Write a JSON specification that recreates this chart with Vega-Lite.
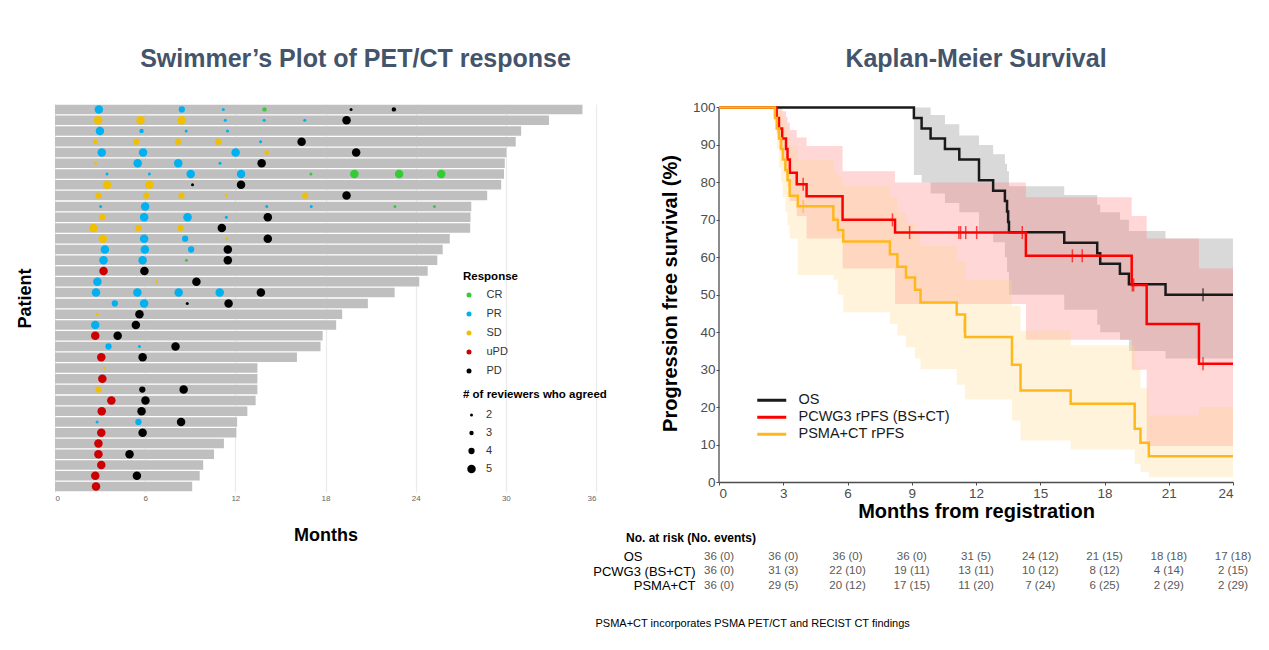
{
  "$schema": "https://vega.github.io/schema/vega-lite/v6.json",
  "background": "white",
  "padding": {"left": 16, "top": 46, "right": 5, "bottom": 5},
  "autosize": {"type": "pad"},
  "config": {
    "view": {"stroke": null},
    "font": "Liberation Sans",
    "axis": {"labelFont": "Liberation Sans", "titleFont": "Liberation Sans"},
    "legend": {"labelFont": "Liberation Sans", "titleFont": "Liberation Sans"},
    "title": {"font": "Liberation Sans"},
    "text": {"font": "Liberation Sans"}
  },
  "datasets": {
    "bars": [
      {"p": 1, "months": 35.1}, {"p": 2, "months": 32.87}, {"p": 3, "months": 31.02}, {"p": 4, "months": 30.66},
      {"p": 5, "months": 30.04}, {"p": 6, "months": 29.93}, {"p": 7, "months": 29.88}, {"p": 8, "months": 29.69},
      {"p": 9, "months": 28.76}, {"p": 10, "months": 27.7}, {"p": 11, "months": 27.65}, {"p": 12, "months": 27.63},
      {"p": 13, "months": 26.27}, {"p": 14, "months": 25.8}, {"p": 15, "months": 25.44}, {"p": 16, "months": 24.8},
      {"p": 17, "months": 24.24}, {"p": 18, "months": 22.6}, {"p": 19, "months": 20.82}, {"p": 20, "months": 19.11},
      {"p": 21, "months": 18.71}, {"p": 22, "months": 17.81}, {"p": 23, "months": 17.67}, {"p": 24, "months": 16.1},
      {"p": 25, "months": 13.47}, {"p": 26, "months": 13.47}, {"p": 27, "months": 13.47}, {"p": 28, "months": 13.35},
      {"p": 29, "months": 12.8}, {"p": 30, "months": 12.12}, {"p": 31, "months": 12.07}, {"p": 32, "months": 11.24},
      {"p": 33, "months": 10.58}, {"p": 34, "months": 9.86}, {"p": 35, "months": 9.63}, {"p": 36, "months": 9.13}
    ],
    "dots": [
      {"p":1,"t":2.92,"r":"PR","n":5},{"p":1,"t":8.44,"r":"PR","n":4},{"p":1,"t":11.2,"r":"PR","n":2},{"p":1,"t":13.94,"r":"CR","n":3},{"p":1,"t":19.7,"r":"PD","n":2},{"p":1,"t":22.55,"r":"PD","n":3},
      {"p":2,"t":2.87,"r":"SD","n":5},{"p":2,"t":5.69,"r":"SD","n":5},{"p":2,"t":8.42,"r":"SD","n":5},{"p":2,"t":11.33,"r":"PR","n":2},{"p":2,"t":13.92,"r":"PR","n":2},{"p":2,"t":16.62,"r":"PR","n":2},{"p":2,"t":19.4,"r":"PD","n":5},
      {"p":3,"t":2.99,"r":"PR","n":5},{"p":3,"t":5.76,"r":"PR","n":3},{"p":3,"t":8.73,"r":"PR","n":2},{"p":3,"t":11.48,"r":"PR","n":2},
      {"p":4,"t":2.68,"r":"SD","n":3},{"p":4,"t":5.41,"r":"SD","n":4},{"p":4,"t":8.18,"r":"SD","n":4},{"p":4,"t":10.86,"r":"SD","n":4},{"p":4,"t":13.68,"r":"PR","n":2},{"p":4,"t":16.41,"r":"PD","n":5},
      {"p":5,"t":3.11,"r":"PR","n":5},{"p":5,"t":5.86,"r":"PR","n":5},{"p":5,"t":12.02,"r":"PR","n":5},{"p":5,"t":14.09,"r":"SD","n":3},{"p":5,"t":20.04,"r":"PD","n":5},
      {"p":6,"t":2.7,"r":"SD","n":2},{"p":6,"t":5.5,"r":"PR","n":5},{"p":6,"t":8.2,"r":"PR","n":5},{"p":6,"t":10.98,"r":"PR","n":2},{"p":6,"t":13.75,"r":"PD","n":5},
      {"p":7,"t":3.46,"r":"PR","n":2},{"p":7,"t":6.28,"r":"PR","n":2},{"p":7,"t":9.03,"r":"PR","n":5},{"p":7,"t":12.38,"r":"PR","n":5},{"p":7,"t":17.03,"r":"CR","n":2},{"p":7,"t":19.92,"r":"CR","n":5},{"p":7,"t":22.9,"r":"CR","n":5},{"p":7,"t":25.7,"r":"CR","n":5},
      {"p":8,"t":3.46,"r":"SD","n":5},{"p":8,"t":6.28,"r":"SD","n":5},{"p":8,"t":9.15,"r":"PD","n":2},{"p":8,"t":12.38,"r":"PD","n":5},
      {"p":9,"t":2.89,"r":"SD","n":4},{"p":9,"t":6.07,"r":"SD","n":4},{"p":9,"t":8.42,"r":"SD","n":4},{"p":9,"t":11.38,"r":"SD","n":2},{"p":9,"t":16.65,"r":"SD","n":4},{"p":9,"t":19.4,"r":"PD","n":5},
      {"p":10,"t":3.04,"r":"PR","n":2},{"p":10,"t":6.0,"r":"PR","n":5},{"p":10,"t":14.09,"r":"PR","n":2},{"p":10,"t":17.05,"r":"PR","n":2},{"p":10,"t":22.62,"r":"CR","n":2},{"p":10,"t":25.25,"r":"CR","n":2},
      {"p":11,"t":3.15,"r":"SD","n":4},{"p":11,"t":5.93,"r":"PR","n":5},{"p":11,"t":8.82,"r":"PR","n":5},{"p":11,"t":11.4,"r":"PR","n":2},{"p":11,"t":14.16,"r":"PD","n":5},
      {"p":12,"t":2.56,"r":"SD","n":5},{"p":12,"t":5.55,"r":"SD","n":4},{"p":12,"t":8.35,"r":"SD","n":4},{"p":12,"t":11.1,"r":"PD","n":5},
      {"p":13,"t":3.18,"r":"SD","n":5},{"p":13,"t":5.93,"r":"PR","n":5},{"p":13,"t":8.66,"r":"PR","n":4},{"p":13,"t":11.43,"r":"SD","n":2},{"p":13,"t":14.16,"r":"PD","n":5},
      {"p":14,"t":3.32,"r":"PR","n":5},{"p":14,"t":5.98,"r":"PR","n":5},{"p":14,"t":9.06,"r":"PR","n":4},{"p":14,"t":11.5,"r":"PD","n":5},
      {"p":15,"t":3.23,"r":"PR","n":5},{"p":15,"t":5.83,"r":"PR","n":5},{"p":15,"t":8.75,"r":"CR","n":2},{"p":15,"t":11.5,"r":"PD","n":5},
      {"p":16,"t":3.23,"r":"uPD","n":5},{"p":16,"t":5.95,"r":"PD","n":5},
      {"p":17,"t":2.82,"r":"PR","n":5},{"p":17,"t":6.76,"r":"SD","n":2},{"p":17,"t":9.41,"r":"PD","n":5},
      {"p":18,"t":2.73,"r":"PR","n":5},{"p":18,"t":5.48,"r":"PR","n":5},{"p":18,"t":8.23,"r":"PR","n":5},{"p":18,"t":10.96,"r":"PR","n":5},{"p":18,"t":13.7,"r":"PD","n":5},
      {"p":19,"t":3.98,"r":"PR","n":4},{"p":19,"t":5.93,"r":"PR","n":5},{"p":19,"t":8.8,"r":"PD","n":2},{"p":19,"t":11.55,"r":"PD","n":5},
      {"p":20,"t":2.82,"r":"SD","n":2},{"p":20,"t":5.62,"r":"PD","n":5},
      {"p":21,"t":2.68,"r":"PR","n":5},{"p":21,"t":5.38,"r":"PD","n":5},
      {"p":22,"t":2.68,"r":"uPD","n":5},{"p":22,"t":4.17,"r":"PD","n":5},
      {"p":23,"t":3.56,"r":"PR","n":4},{"p":23,"t":5.62,"r":"PR","n":2},{"p":23,"t":8.02,"r":"PD","n":5},
      {"p":24,"t":3.08,"r":"uPD","n":5},{"p":24,"t":5.83,"r":"PD","n":5},
      {"p":25,"t":3.3,"r":"SD","n":2},
      {"p":26,"t":3.15,"r":"uPD","n":5},
      {"p":27,"t":2.89,"r":"SD","n":4},{"p":27,"t":5.81,"r":"PD","n":4},{"p":27,"t":8.56,"r":"PD","n":5},
      {"p":28,"t":3.75,"r":"uPD","n":5},{"p":28,"t":6.02,"r":"PD","n":5},
      {"p":29,"t":3.11,"r":"uPD","n":5},{"p":29,"t":5.76,"r":"PD","n":5},
      {"p":30,"t":2.8,"r":"PR","n":2},{"p":30,"t":5.55,"r":"PR","n":4},{"p":30,"t":8.39,"r":"PD","n":5},
      {"p":31,"t":3.08,"r":"uPD","n":5},{"p":31,"t":5.83,"r":"PD","n":5},
      {"p":32,"t":2.89,"r":"uPD","n":5},
      {"p":33,"t":2.89,"r":"uPD","n":5},{"p":33,"t":4.96,"r":"PD","n":5},
      {"p":34,"t":3.08,"r":"uPD","n":5},
      {"p":35,"t":2.68,"r":"uPD","n":5},{"p":35,"t":5.45,"r":"PD","n":5},
      {"p":36,"t":2.73,"r":"uPD","n":5}
    ],
    "km": [
      {"c":"OS","t":0,"s":100},{"c":"OS","t":9.1,"s":97.2},{"c":"OS","t":9.46,"s":94.4},{"c":"OS","t":9.88,"s":91.7},{"c":"OS","t":10.55,"s":88.9},{"c":"OS","t":11.22,"s":86.1},{"c":"OS","t":12.14,"s":80.6},{"c":"OS","t":12.8,"s":77.8},{"c":"OS","t":13.35,"s":75.0},{"c":"OS","t":13.45,"s":72.2},{"c":"OS","t":13.5,"s":69.4},{"c":"OS","t":13.54,"s":66.7},{"c":"OS","t":16.12,"s":63.9},{"c":"OS","t":17.66,"s":61.1},{"c":"OS","t":17.8,"s":58.3},{"c":"OS","t":18.72,"s":55.6},{"c":"OS","t":19.14,"s":52.8},{"c":"OS","t":20.85,"s":50.0},{"c":"OS","t":24,"s":50.0},
      {"c":"PCWG3 rPFS (BS+CT)","t":0,"s":100},{"c":"PCWG3 rPFS (BS+CT)","t":2.69,"s":97.2},{"c":"PCWG3 rPFS (BS+CT)","t":2.8,"s":94.4},{"c":"PCWG3 rPFS (BS+CT)","t":2.95,"s":91.7},{"c":"PCWG3 rPFS (BS+CT)","t":3.13,"s":88.9},{"c":"PCWG3 rPFS (BS+CT)","t":3.2,"s":86.1},{"c":"PCWG3 rPFS (BS+CT)","t":3.31,"s":82.6},{"c":"PCWG3 rPFS (BS+CT)","t":3.63,"s":79.5},{"c":"PCWG3 rPFS (BS+CT)","t":4.09,"s":76.3},{"c":"PCWG3 rPFS (BS+CT)","t":5.77,"s":70.0},{"c":"PCWG3 rPFS (BS+CT)","t":8.22,"s":66.6},{"c":"PCWG3 rPFS (BS+CT)","t":14.33,"s":60.4},{"c":"PCWG3 rPFS (BS+CT)","t":19.27,"s":52.6},{"c":"PCWG3 rPFS (BS+CT)","t":19.97,"s":42.2},{"c":"PCWG3 rPFS (BS+CT)","t":22.41,"s":31.6},{"c":"PCWG3 rPFS (BS+CT)","t":24,"s":31.6},
      {"c":"PSMA+CT rPFS","t":0,"s":100},{"c":"PSMA+CT rPFS","t":2.61,"s":97.2},{"c":"PSMA+CT rPFS","t":2.7,"s":94.4},{"c":"PSMA+CT rPFS","t":2.8,"s":91.7},{"c":"PSMA+CT rPFS","t":2.9,"s":88.9},{"c":"PSMA+CT rPFS","t":2.98,"s":86.1},{"c":"PSMA+CT rPFS","t":3.1,"s":83.3},{"c":"PSMA+CT rPFS","t":3.2,"s":80.6},{"c":"PSMA+CT rPFS","t":3.3,"s":76.4},{"c":"PSMA+CT rPFS","t":3.68,"s":73.6},{"c":"PSMA+CT rPFS","t":5.34,"s":70.0},{"c":"PSMA+CT rPFS","t":5.55,"s":67.3},{"c":"PSMA+CT rPFS","t":5.8,"s":64.2},{"c":"PSMA+CT rPFS","t":7.98,"s":60.8},{"c":"PSMA+CT rPFS","t":8.33,"s":57.5},{"c":"PSMA+CT rPFS","t":8.73,"s":54.6},{"c":"PSMA+CT rPFS","t":9.15,"s":51.3},{"c":"PSMA+CT rPFS","t":9.41,"s":47.9},{"c":"PSMA+CT rPFS","t":11.1,"s":44.7},{"c":"PSMA+CT rPFS","t":11.49,"s":38.7},{"c":"PSMA+CT rPFS","t":13.68,"s":31.3},{"c":"PSMA+CT rPFS","t":14.08,"s":24.4},{"c":"PSMA+CT rPFS","t":16.42,"s":20.9},{"c":"PSMA+CT rPFS","t":19.41,"s":14.2},{"c":"PSMA+CT rPFS","t":19.68,"s":10.5},{"c":"PSMA+CT rPFS","t":20.07,"s":6.9},{"c":"PSMA+CT rPFS","t":24,"s":6.9}
    ],
    "ci": [
      {"c":"OS","t":9.1,"lo":82,"hi":100},{"c":"OS","t":9.46,"lo":80,"hi":100},{"c":"OS","t":9.88,"lo":77,"hi":98},{"c":"OS","t":10.55,"lo":74.5,"hi":95.5},{"c":"OS","t":11.22,"lo":72,"hi":92.5},{"c":"OS","t":12.14,"lo":67,"hi":90},{"c":"OS","t":12.8,"lo":64,"hi":87.5},{"c":"OS","t":13.35,"lo":60,"hi":85},{"c":"OS","t":13.45,"lo":56,"hi":83},{"c":"OS","t":13.54,"lo":50,"hi":79},{"c":"OS","t":16.12,"lo":46,"hi":76.6},{"c":"OS","t":17.66,"lo":42,"hi":74},{"c":"OS","t":17.8,"lo":40,"hi":72},{"c":"OS","t":18.72,"lo":38,"hi":70},{"c":"OS","t":19.14,"lo":35,"hi":67},{"c":"OS","t":20.85,"lo":33,"hi":65},{"c":"OS","t":24,"lo":33,"hi":65},
      {"c":"PCWG3 rPFS (BS+CT)","t":2.69,"lo":93,"hi":100},{"c":"PCWG3 rPFS (BS+CT)","t":2.8,"lo":89,"hi":100},{"c":"PCWG3 rPFS (BS+CT)","t":2.95,"lo":86,"hi":99},{"c":"PCWG3 rPFS (BS+CT)","t":3.13,"lo":82,"hi":97.5},{"c":"PCWG3 rPFS (BS+CT)","t":3.2,"lo":79,"hi":96},{"c":"PCWG3 rPFS (BS+CT)","t":3.31,"lo":75,"hi":94},{"c":"PCWG3 rPFS (BS+CT)","t":3.63,"lo":71,"hi":92},{"c":"PCWG3 rPFS (BS+CT)","t":4.09,"lo":65,"hi":89.7},{"c":"PCWG3 rPFS (BS+CT)","t":5.77,"lo":57,"hi":83},{"c":"PCWG3 rPFS (BS+CT)","t":8.22,"lo":47.5,"hi":80},{"c":"PCWG3 rPFS (BS+CT)","t":14.33,"lo":38,"hi":76},{"c":"PCWG3 rPFS (BS+CT)","t":19.27,"lo":30,"hi":71},{"c":"PCWG3 rPFS (BS+CT)","t":19.97,"lo":9.6,"hi":65},{"c":"PCWG3 rPFS (BS+CT)","t":22.41,"lo":9.6,"hi":57},{"c":"PCWG3 rPFS (BS+CT)","t":24,"lo":9.6,"hi":57},
      {"c":"PSMA+CT rPFS","t":2.61,"lo":94,"hi":100},{"c":"PSMA+CT rPFS","t":2.7,"lo":89,"hi":100},{"c":"PSMA+CT rPFS","t":2.8,"lo":84,"hi":100},{"c":"PSMA+CT rPFS","t":2.9,"lo":80,"hi":99},{"c":"PSMA+CT rPFS","t":2.98,"lo":76,"hi":97},{"c":"PSMA+CT rPFS","t":3.1,"lo":72,"hi":95},{"c":"PSMA+CT rPFS","t":3.2,"lo":68.5,"hi":93},{"c":"PSMA+CT rPFS","t":3.3,"lo":65,"hi":90},{"c":"PSMA+CT rPFS","t":3.68,"lo":55.3,"hi":86},{"c":"PSMA+CT rPFS","t":5.34,"lo":54,"hi":83},{"c":"PSMA+CT rPFS","t":5.55,"lo":50,"hi":81.5},{"c":"PSMA+CT rPFS","t":5.8,"lo":45.3,"hi":79},{"c":"PSMA+CT rPFS","t":7.98,"lo":42.2,"hi":76},{"c":"PSMA+CT rPFS","t":8.33,"lo":39.1,"hi":72},{"c":"PSMA+CT rPFS","t":8.73,"lo":36,"hi":69},{"c":"PSMA+CT rPFS","t":9.15,"lo":33,"hi":66},{"c":"PSMA+CT rPFS","t":9.41,"lo":30.2,"hi":63},{"c":"PSMA+CT rPFS","t":11.1,"lo":26,"hi":59},{"c":"PSMA+CT rPFS","t":11.49,"lo":22,"hi":54},{"c":"PSMA+CT rPFS","t":13.68,"lo":16.4,"hi":47},{"c":"PSMA+CT rPFS","t":14.08,"lo":11.1,"hi":40.4},{"c":"PSMA+CT rPFS","t":16.42,"lo":8.7,"hi":36.5},{"c":"PSMA+CT rPFS","t":19.41,"lo":4.9,"hi":30.7},{"c":"PSMA+CT rPFS","t":19.68,"lo":2.7,"hi":25},{"c":"PSMA+CT rPFS","t":20.07,"lo":1.3,"hi":17.8},{"c":"PSMA+CT rPFS","t":22.4,"lo":1.3,"hi":20},{"c":"PSMA+CT rPFS","t":24,"lo":1.3,"hi":20}
    ],
    "cens": [
      {"c":"OS","t":22.6,"s":50.0},
      {"c":"PCWG3 rPFS (BS+CT)","t":3.93,"s":79.5},{"c":"PCWG3 rPFS (BS+CT)","t":8.1,"s":70.0},{"c":"PCWG3 rPFS (BS+CT)","t":8.9,"s":66.6},{"c":"PCWG3 rPFS (BS+CT)","t":11.2,"s":66.6},{"c":"PCWG3 rPFS (BS+CT)","t":11.28,"s":66.6},{"c":"PCWG3 rPFS (BS+CT)","t":11.52,"s":66.6},{"c":"PCWG3 rPFS (BS+CT)","t":12.03,"s":66.6},{"c":"PCWG3 rPFS (BS+CT)","t":14.16,"s":66.6},{"c":"PCWG3 rPFS (BS+CT)","t":16.5,"s":60.4},{"c":"PCWG3 rPFS (BS+CT)","t":16.96,"s":60.4},{"c":"PCWG3 rPFS (BS+CT)","t":19.3,"s":52.6},{"c":"PCWG3 rPFS (BS+CT)","t":19.36,"s":52.6},{"c":"PCWG3 rPFS (BS+CT)","t":22.6,"s":31.6},
      {"c":"PSMA+CT rPFS","t":3.93,"s":73.6},{"c":"PSMA+CT rPFS","t":11.45,"s":41.7}
    ],
    "axisline": [{"t": 0, "a": 0, "b": 100}],
    "risk": [
      {"g":"OS","t":0,"txt":"36 (0)"},{"g":"OS","t":3,"txt":"36 (0)"},{"g":"OS","t":6,"txt":"36 (0)"},{"g":"OS","t":9,"txt":"36 (0)"},{"g":"OS","t":12,"txt":"31 (5)"},{"g":"OS","t":15,"txt":"24 (12)"},{"g":"OS","t":18,"txt":"21 (15)"},{"g":"OS","t":21,"txt":"18 (18)"},{"g":"OS","t":24,"txt":"17 (18)"},
      {"g":"PCWG3 (BS+CT)","t":0,"txt":"36 (0)"},{"g":"PCWG3 (BS+CT)","t":3,"txt":"31 (3)"},{"g":"PCWG3 (BS+CT)","t":6,"txt":"22 (10)"},{"g":"PCWG3 (BS+CT)","t":9,"txt":"19 (11)"},{"g":"PCWG3 (BS+CT)","t":12,"txt":"13 (11)"},{"g":"PCWG3 (BS+CT)","t":15,"txt":"10 (12)"},{"g":"PCWG3 (BS+CT)","t":18,"txt":"8 (12)"},{"g":"PCWG3 (BS+CT)","t":21,"txt":"4 (14)"},{"g":"PCWG3 (BS+CT)","t":24,"txt":"2 (15)"},
      {"g":"PSMA+CT","t":0,"txt":"36 (0)"},{"g":"PSMA+CT","t":3,"txt":"29 (5)"},{"g":"PSMA+CT","t":6,"txt":"20 (12)"},{"g":"PSMA+CT","t":9,"txt":"17 (15)"},{"g":"PSMA+CT","t":12,"txt":"11 (20)"},{"g":"PSMA+CT","t":15,"txt":"7 (24)"},{"g":"PSMA+CT","t":18,"txt":"6 (25)"},{"g":"PSMA+CT","t":21,"txt":"2 (29)"},{"g":"PSMA+CT","t":24,"txt":"2 (29)"}
    ]
  },
  "hconcat": [
    {
      "width": 541,
      "height": 388,
      "title": {"text": "Swimmer’s Plot of PET/CT response", "fontSize": 25, "fontWeight": "bold", "color": "#44546a", "offset": 32, "dx": 30, "anchor": "middle", "frame": "group"},
      "layer": [
        {
          "data": {"name": "bars"},
          "mark": {"type": "bar", "color": "#bfbfbf"},
          "encoding": {
            "y": {"field": "p", "type": "ordinal",
              "scale": {"domain": [1,2,3,4,5,6,7,8,9,10,11,12,13,14,15,16,17,18,19,20,21,22,23,24,25,26,27,28,29,30,31,32,33,34,35,36], "paddingInner": 0.12, "paddingOuter": 0.06},
              "axis": {"title": "Patient", "labels": false, "ticks": false, "domain": false, "grid": false, "titleFontSize": 18, "titleFontWeight": "bold", "titleColor": "black", "titlePadding": 21}},
            "x": {"field": "months", "type": "quantitative",
              "scale": {"domain": [0, 36], "nice": false},
              "axis": {"title": "Months", "values": [0,6,12,18,24,30,36], "grid": true, "gridColor": "#ebebeb", "gridWidth": 1.2, "ticks": false, "domain": false, "labelFontSize": 8, "labelColor": "#666666", "labelPadding": 2, "titleFontSize": 18, "titleFontWeight": "bold", "titleColor": "black", "titlePadding": 24}}
          }
        },
        {
          "data": {"name": "dots"},
          "mark": {"type": "circle", "opacity": 1},
          "encoding": {
            "y": {"field": "p", "type": "ordinal"},
            "x": {"field": "t", "type": "quantitative"},
            "color": {"field": "r", "type": "nominal",
              "scale": {"domain": ["CR","PR","SD","uPD","PD"], "range": ["#33cc33","#00b0f0","#f0c000","#cc0000","#000000"]},
              "legend": {"orient": "none", "legendX": 408, "legendY": 167, "direction": "vertical", "title": "Response", "titleFontSize": 11.5, "titleFontWeight": "bold", "titleColor": "black", "titlePadding": 7, "labelFontSize": 11, "labelColor": "#333333", "symbolType": "circle", "symbolSize": 25, "symbolOffset": 0.5, "labelOffset": 12, "rowPadding": 7, "padding": 0}},
            "size": {"field": "n", "type": "quantitative",
              "scale": {"type": "pow", "exponent": 3, "domain": [2, 5], "range": [9, 72], "zero": false},
              "legend": {"orient": "none", "legendX": 408, "legendY": 285, "direction": "vertical", "type": "symbol", "values": [2,3,4,5], "format": "d", "title": "# of reviewers who agreed", "titleFontSize": 11.5, "titleFontWeight": "bold", "titleColor": "black", "titlePadding": 9, "labelFontSize": 11, "labelColor": "#333333", "symbolType": "circle", "symbolFillColor": "black", "symbolStrokeWidth": 0, "symbolOffset": 3, "labelOffset": 9, "rowPadding": 6, "padding": 0}}
          }
        }
      ]
    },
    {
      "vconcat": [
        {
          "width": 514,
          "height": 378,
          "title": {"text": "Kaplan-Meier Survival", "fontSize": 25, "fontWeight": "bold", "color": "#44546a", "offset": 28.5, "anchor": "middle", "frame": "group"},
          "layer": [
            {
              "data": {"name": "ci"},
              "mark": {"type": "area", "interpolate": "step-after", "opacity": 0.3},
              "encoding": {
                "x": {"field": "t", "type": "quantitative", "scale": {"domain": [0, 24], "nice": false},
                  "axis": {"title": "Months from registration", "values": [0,3,6,9,12,15,18,21,24], "grid": false, "tickSize": 3, "tickColor": "#4d4d4d", "domainColor": "#4d4d4d", "domainWidth": 1.3, "labelFontSize": 13.5, "labelColor": "#4d4d4d", "labelPadding": 1, "labelOverlap": false, "titleFontSize": 20, "titleFontWeight": "bold", "titleColor": "black", "titlePadding": 2}},
                "y": {"field": "lo", "type": "quantitative", "scale": {"domain": [0, 100.93], "nice": false, "zero": false},
                  "axis": {"title": "Progression free survival (%)", "values": [0,10,20,30,40,50,60,70,80,90,100], "tickCount": 11, "grid": false, "domain": false, "tickSize": 3, "tickColor": "#4d4d4d", "labelFontSize": 13.5, "labelColor": "#4d4d4d", "labelPadding": 1, "labelOverlap": false, "titleFontSize": 20, "titleFontWeight": "bold", "titleColor": "black", "titlePadding": 12}},
                "y2": {"field": "hi"},
                "fill": {"field": "c", "type": "nominal", "scale": {"domain": ["OS","PCWG3 rPFS (BS+CT)","PSMA+CT rPFS"], "range": ["#808080","#ff7a7a","#ffd78a"]}, "legend": null}
              }
            },
            {
              "data": {"name": "axisline"},
              "mark": {"type": "rule", "color": "#4d4d4d", "strokeWidth": 1.3},
              "encoding": {
                "x": {"field": "t", "type": "quantitative"},
                "y": {"field": "a", "type": "quantitative"},
                "y2": {"field": "b"}
              }
            },
            {
              "data": {"name": "km"},
              "mark": {"type": "line", "interpolate": "step-after", "strokeWidth": 2.5},
              "encoding": {
                "x": {"field": "t", "type": "quantitative"},
                "y": {"field": "s", "type": "quantitative",
                  "axis": {"title": "Progression free survival (%)", "values": [0,10,20,30,40,50,60,70,80,90,100], "tickCount": 11, "grid": false, "domain": false, "tickSize": 3, "tickColor": "#4d4d4d", "labelFontSize": 13.5, "labelColor": "#4d4d4d", "labelPadding": 1, "labelOverlap": false, "titleFontSize": 20, "titleFontWeight": "bold", "titleColor": "black", "titlePadding": 12}},
                "color": {"field": "c", "type": "nominal",
                  "scale": {"domain": ["OS","PCWG3 rPFS (BS+CT)","PSMA+CT rPFS"], "range": ["#1a1a1a","#ff0000","#ffb81c"]},
                  "legend": {"orient": "none", "legendX": 45.5, "legendY": 289, "direction": "vertical", "title": null, "labelFontSize": 14.5, "labelColor": "#1a1a1a", "symbolType": "M-2.9,0H2.9", "symbolStrokeWidth": 3, "symbolSize": 100, "labelOffset": 19.5, "rowPadding": 2, "padding": 0}}
              }
            },
            {
              "data": {"name": "cens"},
              "mark": {"type": "tick", "orient": "vertical", "size": 13, "thickness": 1.5},
              "encoding": {
                "x": {"field": "t", "type": "quantitative"},
                "y": {"field": "s", "type": "quantitative",
                  "axis": {"title": "Progression free survival (%)", "values": [0,10,20,30,40,50,60,70,80,90,100], "tickCount": 11, "grid": false, "domain": false, "tickSize": 3, "tickColor": "#4d4d4d", "labelFontSize": 13.5, "labelColor": "#4d4d4d", "labelPadding": 1, "labelOverlap": false, "titleFontSize": 20, "titleFontWeight": "bold", "titleColor": "black", "titlePadding": 12}},
                "color": {"field": "c", "type": "nominal", "legend": null}
              }
            }
          ]
        },
        {
          "width": 514,
          "height": 43.5,
          "title": {"text": "No. at risk (No. events)", "fontSize": 12, "fontWeight": "bold", "color": "black", "anchor": "start", "dx": -93, "offset": 5, "frame": "group"},
          "data": {"name": "risk"},
          "mark": {"type": "text", "fontSize": 11.5, "color": "#595959"},
          "encoding": {
            "x": {"field": "t", "type": "quantitative", "scale": {"domain": [0, 24], "nice": false},
              "axis": {"labels": false, "ticks": false, "domain": false, "grid": false, "title": "PSMA+CT incorporates PSMA PET/CT and RECIST CT findings", "titleFontSize": 11, "titleFontWeight": "normal", "titleColor": "black", "titleX": -124, "titleY": 30, "titleAlign": "left", "titleBaseline": "middle"}},
            "y": {"field": "g", "type": "nominal", "sort": ["OS","PCWG3 (BS+CT)","PSMA+CT"],
              "axis": {"title": null, "ticks": false, "domain": false, "grid": false, "labelFontSize": 13, "labelColor": "black", "labelAlign": "right",
                "labelPadding": {"condition": {"test": "datum.value == 'OS'", "value": 77}, "value": 24}}},
            "text": {"field": "txt"}
          }
        }
      ],
      "spacing": 67.5,
      "bounds": "flush",
      "resolve": {"scale": {"x": "independent", "y": "independent", "color": "independent"}}
    }
  ],
  "spacing": 123,
  "bounds": "flush",
  "resolve": {
    "scale": {"x": "independent", "y": "independent", "color": "independent", "size": "independent", "fill": "independent"},
    "legend": {"color": "independent", "size": "independent"}
  }
}
